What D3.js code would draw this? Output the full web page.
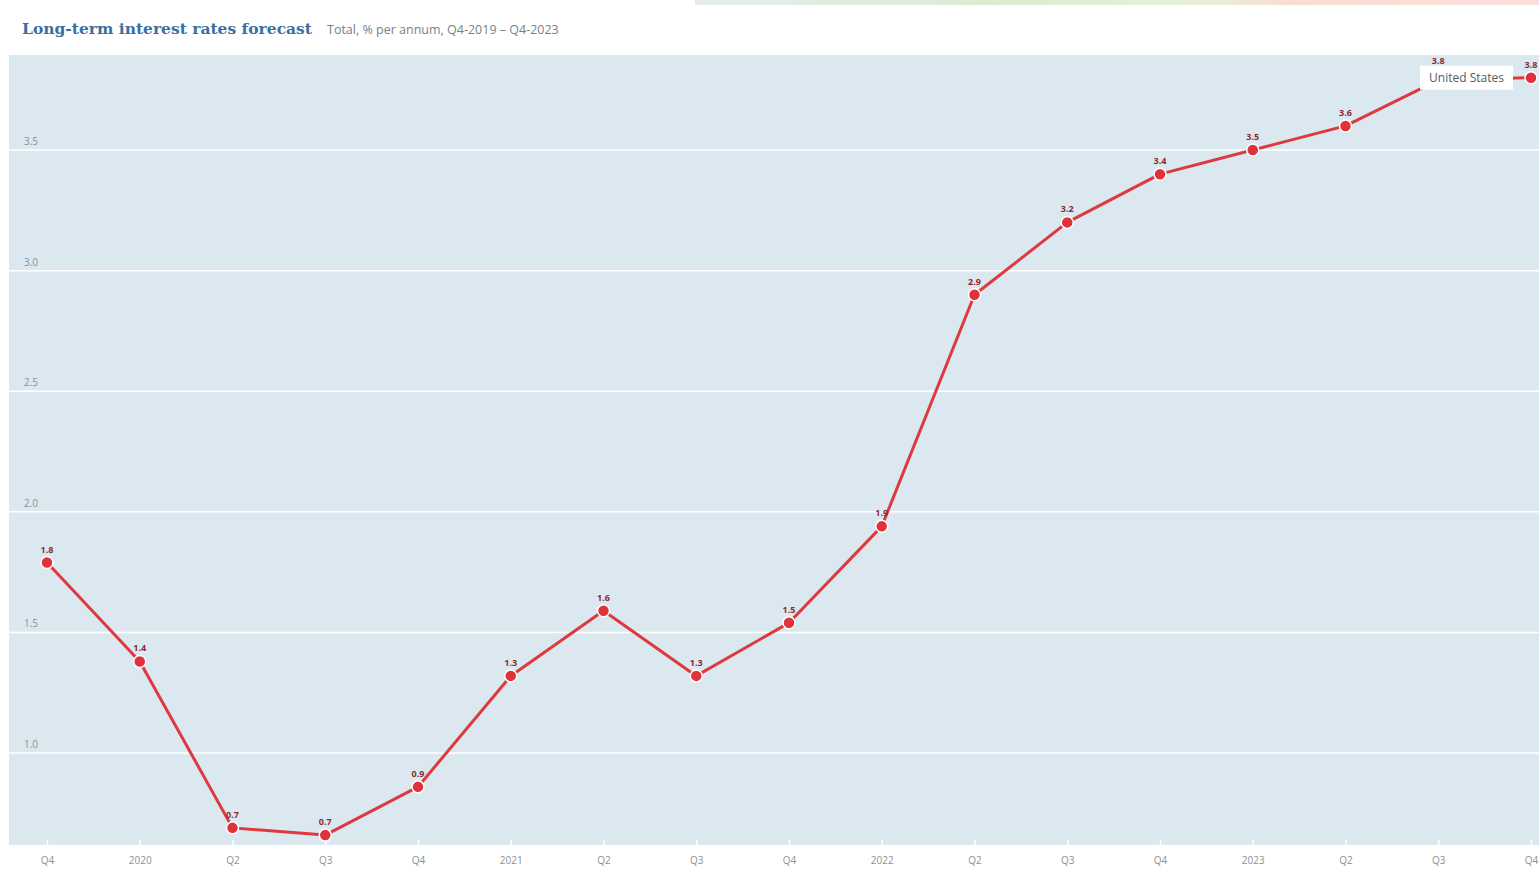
<!DOCTYPE html>
<html>
<head>
<meta charset="utf-8">
<script src="https://cdn.jsdelivr.net/npm/d3@7"></script>
<style>
  html, body { margin: 0; padding: 0; background: #fff; }
  svg { display: block; }
</style>
</head>
<body>
<svg id="chart" width="1539" height="875"></svg>
<script>
// Quarter labels along the x axis
var quarters = ['Q4', '2020', 'Q2', 'Q3', 'Q4', '2021', 'Q2', 'Q3', 'Q4',
    '2022', 'Q2', 'Q3', 'Q4', '2023', 'Q2', 'Q3', 'Q4'];

// United States, long-term interest rates, % per annum
var usRates = [1.79, 1.38, 0.69, 0.66, 0.86, 1.32, 1.59, 1.32, 1.54,
    1.94, 2.90, 3.20, 3.40, 3.50, 3.60, 3.79, 3.80];

var yTicks = [1.0, 1.5, 2.0, 2.5, 3.0, 3.5];
var seriesName = 'United States';

(function () {
    "use strict";

    var svg = d3.select('#chart');
    var plot = { left: 9, right: 1539, top: 55, bottom: 845 };
    var fmt = d3.format('.1f');

    // faint header strip at the very top
    var grad = svg.append('defs').append('linearGradient').attr('id', 'hdr');
    [['0%', '#e4eeee'], ['35%', '#dcebd2'], ['60%', '#e8f0dc'], ['70%', '#f8ddd5'], ['100%', '#fae0d8']]
        .forEach(function (s) {
            grad.append('stop').attr('offset', s[0]).attr('stop-color', s[1]);
        });
    svg.append('rect')
        .attr('x', 695).attr('y', 0)
        .attr('width', 844).attr('height', 5)
        .attr('fill', 'url(#hdr)');

    // Title
    svg.append('text')
        .attr('x', 22).attr('y', 34)
        .attr('font-family', 'DejaVu Serif')
        .attr('font-weight', 'bold')
        .attr('font-size', 15.5)
        .attr('fill', '#3a6f9f')
        .text('Long-term interest rates forecast');

    svg.append('text')
        .attr('x', 327).attr('y', 34)
        .attr('font-family', 'Open Sans, sans-serif')
        .attr('font-size', 12.5)
        .attr('fill', '#7a7f85')
        .text('Total, % per annum, Q4-2019 \u2013 Q4-2023');

    // Plot background
    svg.append('rect')
        .attr('x', plot.left).attr('y', plot.top)
        .attr('width', plot.right - plot.left)
        .attr('height', plot.bottom - plot.top)
        .attr('fill', '#dce8f0');

    var x = d3.scalePoint()
        .domain(d3.range(quarters.length))
        .range([47, 1531]);

    var y = d3.scaleLinear()
        .domain([0.619, 3.894])
        .range([plot.bottom, plot.top]);

    // Gridlines
    svg.append('g').selectAll('line')
        .data(yTicks)
        .enter()
        .append('line')
        .attr('x1', plot.left).attr('x2', plot.right)
        .attr('y1', function (d) { return y(d); })
        .attr('y2', function (d) { return y(d); })
        .attr('stroke', '#ffffff')
        .attr('stroke-width', 1.5);

    // Y tick labels (inside the plot)
    svg.append('g').selectAll('text')
        .data(yTicks)
        .enter()
        .append('text')
        .attr('x', 24)
        .attr('y', function (d) { return y(d) - 5; })
        .attr('font-family', 'Open Sans, sans-serif')
        .attr('font-size', 10)
        .attr('fill', '#8a9096')
        .text(function (d) { return fmt(d); });

    // X axis
    var xAxis = svg.append('g')
        .attr('transform', 'translate(0,' + plot.bottom + ')')
        .call(d3.axisBottom(x)
            .tickSize(-5)
            .tickPadding(12)
            .tickFormat(function (i) { return quarters[i]; }));
    xAxis.select('.domain').remove();
    xAxis.selectAll('.tick line').attr('stroke', '#ffffff').attr('stroke-width', 1.5);
    xAxis.selectAll('.tick text')
        .attr('font-family', 'Open Sans, sans-serif')
        .attr('font-size', 10)
        .attr('fill', '#8a9096');

    // Line
    var line = d3.line()
        .x(function (d, i) { return x(i); })
        .y(function (d) { return y(d); });

    svg.append('path')
        .datum(usRates)
        .attr('fill', 'none')
        .attr('stroke', '#dc3a3f')
        .attr('stroke-width', 3)
        .attr('stroke-linejoin', 'round')
        .attr('d', line);

    // Series label box position (near the end of the line)
    var last = usRates.length - 1;
    var box = { x: x(last) - 111, y: y(usRates[last]) - 12, w: 93, h: 24 };

    // Data labels, lifted above the series label box where they would collide
    svg.append('g').selectAll('text')
        .data(usRates)
        .enter()
        .append('text')
        .attr('x', function (d, i) { return x(i); })
        .attr('y', function (d, i) {
            var ly = y(d) - 10;
            var lx = x(i);
            if (lx > box.x - 8 && lx < box.x + box.w + 8 && ly > box.y - 1) {
                ly = box.y - 2;
            }
            return ly;
        })
        .attr('text-anchor', 'middle')
        .attr('font-family', 'Open Sans, sans-serif')
        .attr('font-weight', 'bold')
        .attr('font-size', 9)
        .attr('fill', '#8e2a2e')
        .text(function (d) { return fmt(d); });

    // Points
    svg.append('g').selectAll('circle')
        .data(usRates)
        .enter()
        .append('circle')
        .attr('cx', function (d, i) { return x(i); })
        .attr('cy', function (d) { return y(d); })
        .attr('r', 6)
        .attr('fill', '#e0323a')
        .attr('stroke', '#ffffff')
        .attr('stroke-width', 1.5);

    // Series label box
    var lab = svg.append('g')
        .attr('transform', 'translate(' + box.x + ',' + box.y + ')');
    lab.append('rect')
        .attr('width', box.w).attr('height', box.h)
        .attr('fill', '#ffffff');
    lab.append('text')
        .attr('x', box.w / 2).attr('y', 16)
        .attr('text-anchor', 'middle')
        .attr('font-family', 'Open Sans, sans-serif')
        .attr('font-size', 12)
        .attr('fill', '#555b61')
        .text(seriesName);
})();
</script>
</body>
</html>
